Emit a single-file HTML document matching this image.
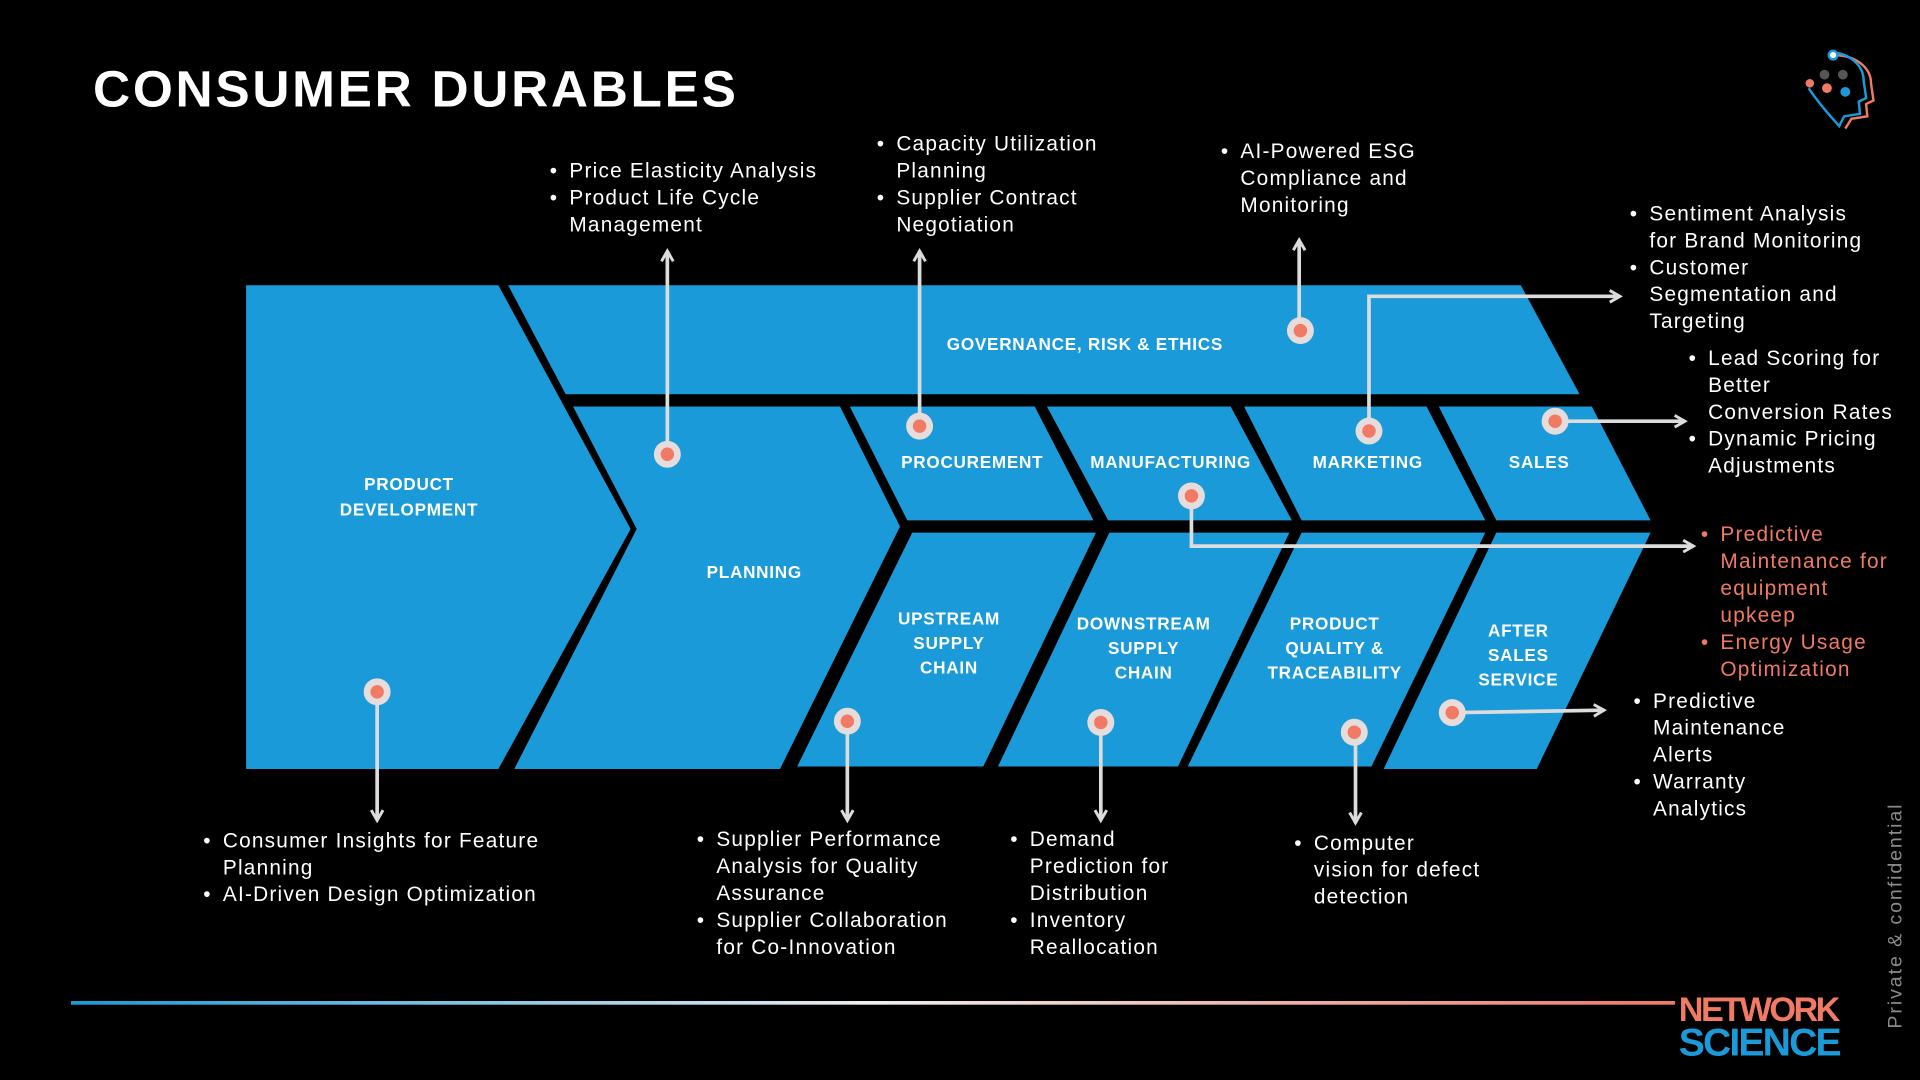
<!DOCTYPE html>
<html><head><meta charset="utf-8"><style>
html,body{margin:0;padding:0;background:#000;}
svg{display:block}
text{font-family:"Liberation Sans",sans-serif}
.t{fill:#fff;font-size:17px;letter-spacing:1px}
.o{fill:#f07a63;font-size:17px;letter-spacing:1px}
.l{fill:#fff;font-size:14px;font-weight:bold;text-anchor:middle;letter-spacing:0.6px}
.ar{stroke:#dcdcdc;stroke-width:3;fill:none}
</style></head><body>
<svg width="1920" height="1080" viewBox="0 0 1568 882">
<defs>
<marker id="ah" viewBox="0 0 10 10" refX="8" refY="5" markerWidth="4" markerHeight="4" orient="auto"><path d="M1,1 L8,5 L1,9" fill="none" stroke="#dcdcdc" stroke-width="2"/></marker>
<linearGradient id="gl" x1="0" x2="1"><stop offset="0" stop-color="#1a9ad9"/><stop offset="0.5" stop-color="#f0f0f0"/><stop offset="1" stop-color="#f07a63"/></linearGradient>
</defs>
<rect width="1568" height="882" fill="#000"/>
<text x="76" y="87" fill="#fff" font-size="42" font-weight="bold" letter-spacing="2.2">CONSUMER DURABLES</text>

<g fill="#1a9ad9">
<polygon points="201,233 407,233 515,432 407,628 201,628"/>
<polygon points="415,233 1242,233 1290,322 462,322"/>
<polygon points="468,332 686,332 735,430 637,628 420,628 520,432"/>
<polygon points="694,332 845,332 893,425 741,425"/>
<polygon points="855,332 1005,332 1055,425 905,425"/>
<polygon points="1016,332 1165,332 1213,425 1063,425"/>
<polygon points="1175,332 1300,332 1348,425 1222,425"/>
<polygon points="745,435 895,435 803,626 651,626"/>
<polygon points="906,435 1053,435 962,626 815,626"/>
<polygon points="1063,435 1213,435 1120,626 970,626"/>
<polygon points="1222,435 1348,435 1255,628 1130,628"/>
</g>

<g>
<text class="l" x="886" y="286">GOVERNANCE, RISK &amp; ETHICS</text>
<text class="l" x="334" y="400">PRODUCT</text><text class="l" x="334" y="421">DEVELOPMENT</text>
<text class="l" x="616" y="472">PLANNING</text>
<text class="l" x="794" y="382">PROCUREMENT</text>
<text class="l" x="956" y="382">MANUFACTURING</text>
<text class="l" x="1117" y="382">MARKETING</text>
<text class="l" x="1257" y="382">SALES</text>
<text class="l" x="775" y="510">UPSTREAM</text><text class="l" x="775" y="530">SUPPLY</text><text class="l" x="775" y="550">CHAIN</text>
<text class="l" x="934" y="514">DOWNSTREAM</text><text class="l" x="934" y="534">SUPPLY</text><text class="l" x="934" y="554">CHAIN</text>
<text class="l" x="1090" y="514">PRODUCT</text><text class="l" x="1090" y="534">QUALITY &amp;</text><text class="l" x="1090" y="554">TRACEABILITY</text>
<text class="l" x="1240" y="520">AFTER</text><text class="l" x="1240" y="540">SALES</text><text class="l" x="1240" y="560">SERVICE</text>
</g>

<g>
<path class="ar" marker-end="url(#ah)" d="M308,565 V670"/>
<path class="ar" marker-end="url(#ah)" d="M545,371 V205"/>
<path class="ar" marker-end="url(#ah)" d="M751,348 V205"/>
<path class="ar" marker-end="url(#ah)" d="M1061,270 V196"/>
<path class="ar" marker-end="url(#ah)" d="M1118,352 V242 H1323"/>
<path class="ar" marker-end="url(#ah)" d="M1270,344 H1376"/>
<path class="ar" marker-end="url(#ah)" d="M973,405 V446 H1383"/>
<path class="ar" marker-end="url(#ah)" d="M692,589 V670"/>
<path class="ar" marker-end="url(#ah)" d="M899,590 V670"/>
<path class="ar" marker-end="url(#ah)" d="M1107,598 V672"/>
<path class="ar" marker-end="url(#ah)" d="M1186,582 L1310,580"/>
</g>

<g>
<g><circle cx="308" cy="565" r="11" fill="#e6dcdc"/><circle cx="308" cy="565" r="5.5" fill="#f07a63"/></g>
<g><circle cx="545" cy="371" r="11" fill="#e6dcdc"/><circle cx="545" cy="371" r="5.5" fill="#f07a63"/></g>
<g><circle cx="751" cy="348" r="11" fill="#e6dcdc"/><circle cx="751" cy="348" r="5.5" fill="#f07a63"/></g>
<g><circle cx="692" cy="589" r="11" fill="#e6dcdc"/><circle cx="692" cy="589" r="5.5" fill="#f07a63"/></g>
<g><circle cx="973" cy="405" r="11" fill="#e6dcdc"/><circle cx="973" cy="405" r="5.5" fill="#f07a63"/></g>
<g><circle cx="899" cy="590" r="11" fill="#e6dcdc"/><circle cx="899" cy="590" r="5.5" fill="#f07a63"/></g>
<g><circle cx="1118" cy="352" r="11" fill="#e6dcdc"/><circle cx="1118" cy="352" r="5.5" fill="#f07a63"/></g>
<g><circle cx="1106" cy="598" r="11" fill="#e6dcdc"/><circle cx="1106" cy="598" r="5.5" fill="#f07a63"/></g>
<g><circle cx="1270" cy="344" r="11" fill="#e6dcdc"/><circle cx="1270" cy="344" r="5.5" fill="#f07a63"/></g>
<g><circle cx="1186" cy="582" r="11" fill="#e6dcdc"/><circle cx="1186" cy="582" r="5.5" fill="#f07a63"/></g>
<g><circle cx="1062" cy="270" r="11" fill="#e6dcdc"/><circle cx="1062" cy="270" r="5.5" fill="#f07a63"/></g>
</g>

<g>
<text class="t"><tspan x="449" y="145">•</tspan><tspan x="465" y="145">Price Elasticity Analysis</tspan><tspan x="449" y="167">•</tspan><tspan x="465" y="167">Product Life Cycle</tspan><tspan x="465" y="189">Management</tspan></text>
<text class="t"><tspan x="716" y="123">•</tspan><tspan x="732" y="123">Capacity Utilization</tspan><tspan x="732" y="145">Planning</tspan><tspan x="716" y="167">•</tspan><tspan x="732" y="167">Supplier Contract</tspan><tspan x="732" y="189">Negotiation</tspan></text>
<text class="t"><tspan x="997" y="129">•</tspan><tspan x="1013" y="129">AI-Powered ESG</tspan><tspan x="1013" y="151">Compliance and</tspan><tspan x="1013" y="173">Monitoring</tspan></text>
<text class="t"><tspan x="1331" y="180">•</tspan><tspan x="1347" y="180">Sentiment Analysis</tspan><tspan x="1347" y="202">for Brand Monitoring</tspan><tspan x="1331" y="224">•</tspan><tspan x="1347" y="224">Customer</tspan><tspan x="1347" y="246">Segmentation and</tspan><tspan x="1347" y="268">Targeting</tspan></text>
<text class="t"><tspan x="1379" y="298">•</tspan><tspan x="1395" y="298">Lead Scoring for</tspan><tspan x="1395" y="320">Better</tspan><tspan x="1395" y="342">Conversion Rates</tspan><tspan x="1379" y="364">•</tspan><tspan x="1395" y="364">Dynamic Pricing</tspan><tspan x="1395" y="386">Adjustments</tspan></text>
<text class="o"><tspan x="1389" y="442">•</tspan><tspan x="1405" y="442">Predictive</tspan><tspan x="1405" y="464">Maintenance for</tspan><tspan x="1405" y="486">equipment</tspan><tspan x="1405" y="508">upkeep</tspan><tspan x="1389" y="530">•</tspan><tspan x="1405" y="530">Energy Usage</tspan><tspan x="1405" y="552">Optimization</tspan></text>
<text class="t"><tspan x="1334" y="578">•</tspan><tspan x="1350" y="578">Predictive</tspan><tspan x="1350" y="600">Maintenance</tspan><tspan x="1350" y="622">Alerts</tspan><tspan x="1334" y="644">•</tspan><tspan x="1350" y="644">Warranty</tspan><tspan x="1350" y="666">Analytics</tspan></text>
<text class="t"><tspan x="166" y="692">•</tspan><tspan x="182" y="692">Consumer Insights for Feature</tspan><tspan x="182" y="714">Planning</tspan><tspan x="166" y="736">•</tspan><tspan x="182" y="736">AI-Driven Design Optimization</tspan></text>
<text class="t"><tspan x="569" y="691">•</tspan><tspan x="585" y="691">Supplier Performance</tspan><tspan x="585" y="713">Analysis for Quality</tspan><tspan x="585" y="735">Assurance</tspan><tspan x="569" y="757">•</tspan><tspan x="585" y="757">Supplier Collaboration</tspan><tspan x="585" y="779">for Co-Innovation</tspan></text>
<text class="t"><tspan x="825" y="691">•</tspan><tspan x="841" y="691">Demand</tspan><tspan x="841" y="713">Prediction for</tspan><tspan x="841" y="735">Distribution</tspan><tspan x="825" y="757">•</tspan><tspan x="841" y="757">Inventory</tspan><tspan x="841" y="779">Reallocation</tspan></text>
<text class="t"><tspan x="1057" y="694">•</tspan><tspan x="1073" y="694">Computer</tspan><tspan x="1073" y="716">vision for defect</tspan><tspan x="1073" y="738">detection</tspan></text>
</g>

<rect x="58" y="817.5" width="1310" height="3" fill="url(#gl)"/>
<g>
<text x="1371" y="834" fill="#f07a63" font-size="28" font-weight="bold" textLength="132">NETWORK</text>
<text x="1371" y="862" fill="#1a9ad9" font-size="32" font-weight="bold" textLength="133">SCIENCE</text>
</g>
<text transform="translate(1553,840) rotate(-90)" fill="#8a8a8a" font-size="16" textLength="183">Private &amp; confidential</text>

<g fill="none" stroke-width="2">
<path d="M1498,45 C1515,45 1528,55 1528,68 L1530,82 L1524,85 L1525,95 L1512,97 L1507,105" stroke="#f07a63"/>
<path d="M1495,43 C1510,43 1522,53 1522,66 L1524,80 L1518,83 L1519,93 L1506,95 L1502,103 C1495,95 1488,88 1477,72" stroke="#1a9ad9"/>
<circle cx="1497" cy="45" r="3.5" fill="#fff" stroke="#1a9ad9"/>
<circle cx="1478" cy="68" r="3.5" fill="#f07a63" stroke="none"/>
<circle cx="1490" cy="61" r="4" fill="#555" stroke="none"/>
<circle cx="1505" cy="61" r="4" fill="#555" stroke="none"/>
<circle cx="1507" cy="75" r="4" fill="#1a9ad9" stroke="none"/>
<circle cx="1492" cy="72" r="4" fill="#f07a63" stroke="none"/>
</g>
</svg>
</body></html>
